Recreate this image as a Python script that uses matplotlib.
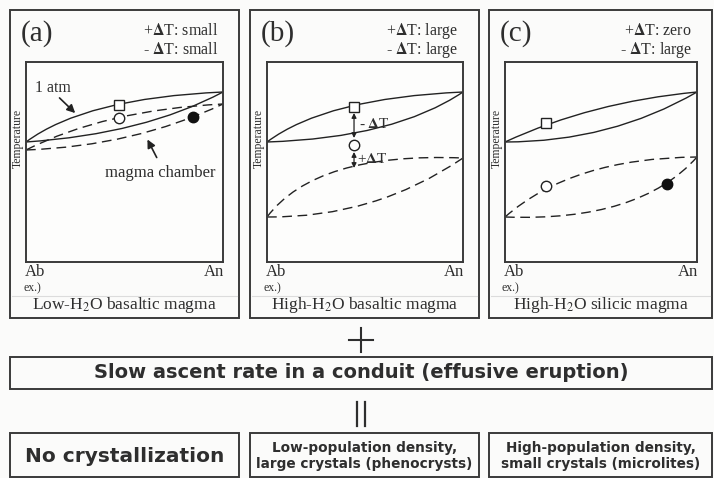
import matplotlib
matplotlib.use("Agg")
import matplotlib.pyplot as plt
import numpy as np
from matplotlib.patches import Rectangle, PathPatch
from matplotlib.path import Path

# panel titles and texts
panel_tags = ['(a)', '(b)', '(c)']
magma_types = ['Low-H$_2$O basaltic magma', 'High-H$_2$O basaltic magma',
               'High-H$_2$O silicic magma']
dT_plus = ['small', 'large', 'zero']
dT_minus = ['small', 'large', 'large']

# plagioclase loops: (start, control, end) in (An fraction, relative temperature)
liquidus_1atm = [((0, 0.60), (0.30, 0.82), (1, 0.85)),
                 ((0, 0.60), (0.30, 0.82), (1, 0.85)),
                 ((0, 0.60), (0.45, 0.80), (1, 0.85))]
solidus_1atm = [((0, 0.60), (0.60, 0.64), (1, 0.85)),
                ((0, 0.60), (0.65, 0.62), (1, 0.85)),
                ((0, 0.60), (0.55, 0.60), (1, 0.85))]
liquidus_chamber = [((0, 0.56), (0.40, 0.76), (1, 0.79)),
                    ((0, 0.225), (0.25, 0.55), (1, 0.52)),
                    ((0, 0.225), (0.35, 0.52), (1, 0.525))]
solidus_chamber = [((0, 0.56), (0.55, 0.58), (1, 0.79)),
                   ((0, 0.225), (0.55, 0.22), (1, 0.52)),
                   ((0, 0.225), (0.70, 0.20), (1, 0.525))]

# melt at 1 atm (square), melt in chamber (open), crystal in chamber (filled)
square_x = [0.47, 0.444, 0.214]
square_y = [0.785, 0.775, 0.695]
melt_x = [0.47, 0.444, 0.214]
melt_y = [0.72, 0.585, 0.38]
xtal_x = [0.85, np.nan, 0.844]
xtal_y = [0.725, np.nan, 0.39]

conduit_text = 'Slow ascent rate in a conduit (effusive eruption)'
result_texts = ['No crystallization',
                'Low-population density,\nlarge crystals (phenocrysts)',
                'High-population density,\nsmall crystals (microlites)']

W, H = 714, 478
col_left = [10, 250, 489]
col_right = [239, 479, 712]
in_left = [26, 267, 505]
in_right = [223, 463, 697]
in_top, in_bot = 62, 262

serif = 'Liberation Serif'
sans = 'DejaVu Sans'
plt.rcParams['mathtext.fontset'] = 'stix'
edge = '#3a3a3a'
ink = '#2e2e2e'


def draw_loop(ax, pts, dashed=False):
    path = Path(list(pts), [Path.MOVETO, Path.CURVE3, Path.CURVE3])
    ls = (0, (7, 4)) if dashed else '-'
    ax.add_patch(PathPatch(path, fill=False, lw=1.0, ec='#222222', ls=ls))


fig = plt.figure(figsize=(W / 100, H / 100), dpi=100, facecolor='#fbfbfa')
base = fig.add_axes([0, 0, 1, 1])
base.set_xlim(0, W)
base.set_ylim(H, 0)
base.axis('off')

for i in range(3):
    cl, cr = col_left[i], col_right[i]
    base.add_patch(Rectangle((cl, 10), cr - cl, 308, fill=False, lw=1.4, ec=edge))
    base.plot([cl + 2, cr - 2], [296, 296], color='#dcdcdc', lw=0.8)
    base.text(cl + 11, 34, panel_tags[i], fontsize=21, family=serif,
              va='center', ha='left', color=ink)
    base.text(in_right[i] - 5, 31, '+$\\mathbf{\\Delta}$T: ' + dT_plus[i], fontsize=11.5,
              family=serif, ha='right', va='center', color=ink)
    base.text(in_right[i] - 5, 50, '- $\\mathbf{\\Delta}$T: ' + dT_minus[i], fontsize=11.5,
              family=serif, ha='right', va='center', color=ink)
    base.text(in_left[i] - 1, 272, 'Ab', fontsize=12, family=serif, ha='left',
              va='center', color=ink)
    base.text(in_right[i] + 1, 272, 'An', fontsize=12, family=serif, ha='right',
              va='center', color=ink)
    base.text(in_left[i] - 3, 288, 'ex.)', fontsize=8.5, family=serif, ha='left',
              va='center', color=ink)
    base.text((cl + cr) / 2, 305, magma_types[i], fontsize=12.5, family=serif,
              ha='center', va='center', color=ink)
    base.text(in_left[i] - 8, 138, 'Temperature', fontsize=8.5, family=serif,
              rotation=90, ha='center', va='center', color=ink)

    ax = fig.add_axes([in_left[i] / W, 1 - in_bot / H,
                       (in_right[i] - in_left[i]) / W, (in_bot - in_top) / H])
    ax.set_xlim(0, 1)
    ax.set_ylim(0, 1)
    ax.set_xticks([])
    ax.set_yticks([])
    ax.set_facecolor('#fdfdfc')
    for sp in ax.spines.values():
        sp.set_linewidth(1.4)
        sp.set_color(edge)

    draw_loop(ax, liquidus_1atm[i])
    draw_loop(ax, solidus_1atm[i])
    draw_loop(ax, liquidus_chamber[i], dashed=True)
    draw_loop(ax, solidus_chamber[i], dashed=True)

    ax.plot(square_x[i], square_y[i], 's', ms=7.5, mfc='white', mec='#222222',
            mew=1.0, zorder=5)
    ax.plot(melt_x[i], melt_y[i], 'o', ms=7.5, mfc='white', mec='#222222',
            mew=1.0, zorder=5)
    ax.plot(xtal_x[i], xtal_y[i], 'o', ms=7.5, mfc='#111111', mec='#111111',
            zorder=5)

    if i == 0:
        ax.annotate('', xy=(0.26, 0.735), xytext=(0.16, 0.83),
                    arrowprops=dict(arrowstyle='-|>', lw=1.2, color='#222222',
                                    mutation_scale=12))
        ax.text(0.045, 0.87, '1 atm', fontsize=11.5, family=serif, ha='left',
                va='center', color=ink)
        ax.annotate('', xy=(0.61, 0.625), xytext=(0.67, 0.51),
                    arrowprops=dict(arrowstyle='-|>', lw=1.2, color='#222222',
                                    mutation_scale=12))
        ax.text(0.68, 0.445, 'magma chamber', fontsize=12, family=serif,
                ha='center', va='center', color=ink)
    if i == 1:
        # undercooling and superheating between the markers
        ax.annotate('', xy=(square_x[i], square_y[i] - 0.03),
                    xytext=(melt_x[i], melt_y[i] + 0.035),
                    arrowprops=dict(arrowstyle='<|-|>', lw=0.9, color='#222222',
                                    mutation_scale=7, shrinkA=0, shrinkB=0))
        ax.annotate('', xy=(melt_x[i], melt_y[i] - 0.035),
                    xytext=(melt_x[i], 0.47),
                    arrowprops=dict(arrowstyle='<|-|>', lw=0.9, color='#222222',
                                    mutation_scale=7, shrinkA=0, shrinkB=0))
        ax.text(0.47, 0.69, '- $\\mathbf{\\Delta}$T', fontsize=11, family=serif,
                ha='left', va='center', color=ink)
        ax.text(0.46, 0.515, '+$\\mathbf{\\Delta}$T', fontsize=11, family=serif,
                ha='left', va='center', color=ink)

# plus sign and equals sign between rows
xc = (col_left[0] + col_right[2]) / 2
base.plot([xc - 12, xc + 12], [340, 340], color=ink, lw=1.5)
base.plot([xc, xc], [328, 352], color=ink, lw=1.5)
base.plot([xc - 4, xc - 4], [402, 426], color=ink, lw=1.6)
base.plot([xc + 4, xc + 4], [402, 426], color=ink, lw=1.6)

base.add_patch(Rectangle((col_left[0], 357), col_right[2] - col_left[0], 32,
                         fill=False, lw=1.4, ec=edge))
base.text(xc, 373, conduit_text, fontsize=14, family=sans, weight='bold',
          ha='center', va='center', color=ink)

for i in range(3):
    cl, cr = col_left[i], col_right[i]
    base.add_patch(Rectangle((cl, 433), cr - cl, 44, fill=False, lw=1.4, ec=edge))
    fs = 14.5 if i == 0 else 9.8
    base.text((cl + cr) / 2, 456, result_texts[i], fontsize=fs, family=sans,
              weight='bold', ha='center', va='center',
              linespacing=1.2, color=ink)

fig.savefig('out.png', dpi=100, facecolor=fig.get_facecolor())
